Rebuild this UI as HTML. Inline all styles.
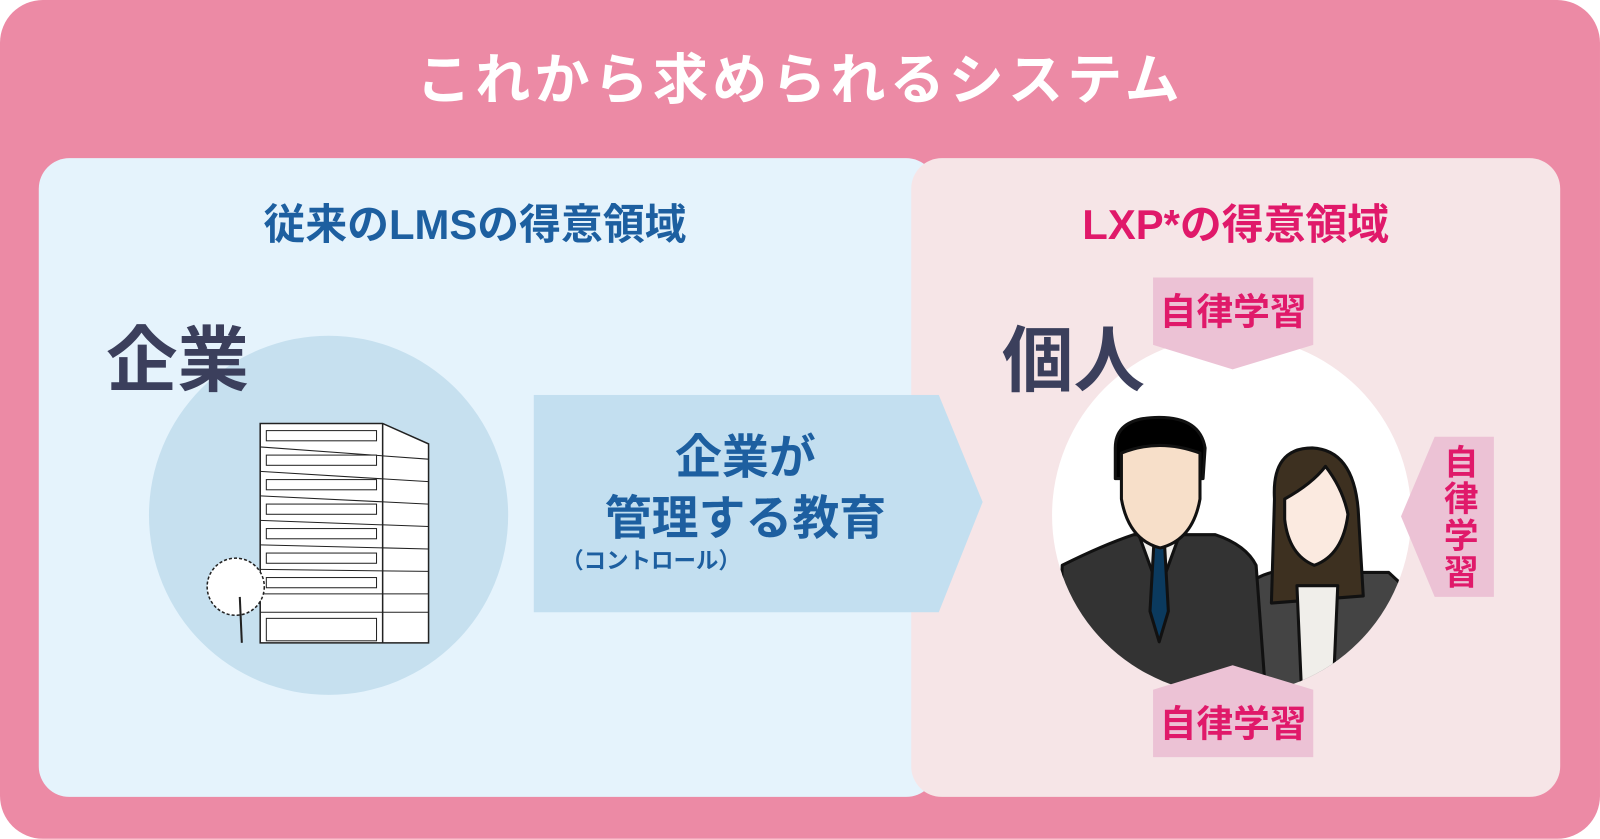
<!DOCTYPE html>
<html><head><meta charset="utf-8"><style>
html,body{margin:0;padding:0;width:1600px;height:838px;overflow:hidden;background:#fff}
#w{position:absolute;left:0;top:0;width:1568px;height:822px;transform:scale(1.0204);transform-origin:0 0;font-family:"Liberation Sans","Noto Sans CJK JP",sans-serif;font-weight:bold}
.a{position:absolute}
</style></head><body><div id="w">
<div class="a" style="left:0;top:0;width:1568px;height:822px;background:#ec8aa5;border-radius:42px"></div>
<div class="a" style="left:0;top:44px;width:1568px;text-align:center;color:#fff;font-size:54px;line-height:70px;letter-spacing:4px">これから求められるシステム</div>
<div class="a" style="left:38px;top:155px;width:880px;height:626px;background:#e5f3fc;border-radius:30px"></div>
<div class="a" style="left:893px;top:155px;width:636px;height:626px;background:#f6e5e7;border-radius:30px"></div>
<div class="a" style="left:38px;top:194px;width:855px;text-align:center;color:#1d5fa0;font-size:41px;line-height:52px">従来のLMSの得意領域</div>
<div class="a" style="left:893px;top:194px;width:636px;text-align:center;color:#e0196a;font-size:41px;line-height:52px">LXP*の得意領域</div>
<div class="a" style="left:146px;top:329px;width:352px;height:352px;border-radius:50%;background:#c6e0ef"></div>
<svg class="a" style="left:195px;top:410px" width="230" height="225" viewBox="0 0 230 225">
<g stroke="#222" stroke-width="1.5" fill="#fff">
<polygon points="60,5 180,5 225,25 225,220 60,220"/>
<line x1="180" y1="5" x2="180" y2="220"/>
<g stroke-width="1">
<line x1="60" y1="28" x2="225" y2="40"/><line x1="60" y1="52" x2="225" y2="62"/><line x1="60" y1="76" x2="225" y2="84"/><line x1="60" y1="100" x2="225" y2="106"/><line x1="60" y1="124" x2="225" y2="128"/><line x1="60" y1="148" x2="225" y2="150"/><line x1="60" y1="172" x2="225" y2="172"/><line x1="60" y1="190" x2="225" y2="190"/>
<rect x="66" y="12" width="108" height="10"/><rect x="66" y="36" width="108" height="10"/><rect x="66" y="60" width="108" height="10"/><rect x="66" y="84" width="108" height="10"/><rect x="66" y="108" width="108" height="10"/><rect x="66" y="132" width="108" height="10"/><rect x="66" y="156" width="108" height="10"/><rect x="66" y="196" width="108" height="22"/>
</g></g>
<circle cx="36" cy="165" r="28" fill="#fff" stroke="#222" stroke-width="1.5" stroke-dasharray="3 2"/>
<line x1="40" y1="175" x2="42" y2="220" stroke="#222" stroke-width="2"/>
</svg>
<div class="a" style="left:104px;top:312px;color:#3b3f5c;font-size:70px;line-height:84px">企業</div>
<svg class="a" style="left:523px;top:387px" width="442" height="214"><polygon points="0,0 397,0 440,105 397,213 0,213" fill="#c3dff0"/></svg>
<div class="a" style="left:523px;top:418px;width:415px;text-align:center;color:#1d5fa0;font-size:46px;line-height:60px">企業が<br>管理する教育</div>
<div class="a" style="left:550px;top:535px;color:#1d5fa0;font-size:22px;line-height:30px">（コントロール）</div>
<svg class="a" style="left:1031px;top:329px" width="352" height="352" viewBox="0 0 352 352">
<defs><clipPath id="c"><circle cx="176" cy="176" r="176"/></clipPath></defs>
<circle cx="176" cy="176" r="176" fill="#fff"/>
<g clip-path="url(#c)" stroke="#111" stroke-width="3" stroke-linejoin="round">
<path d="M170,360 L175,270 Q185,240 215,232 L330,232 L360,260 L360,360Z" fill="#444"/>
<path d="M218,160 Q215,110 255,110 Q295,112 300,170 L305,255 L215,262Z" fill="#3d3020"/>
<path d="M228,160 Q255,145 268,128 Q285,150 290,175 Q285,215 257,225 Q232,215 228,180Z" fill="#fbeae0"/>
<path d="M240,245 L280,245 L275,360 L245,360Z" fill="#f0eeea"/>
<path d="M5,360 L10,225 Q50,205 80,195 L160,195 Q190,205 200,225 L210,360Z" fill="#333"/>
<path d="M80,180 L85,195 L105,250 L125,195 L130,180Z" fill="#f0eeea"/>
<path d="M100,200 L110,200 L114,270 L105,300 L96,270Z" fill="#0b3a5e"/>
<path d="M62,110 Q62,80 105,80 Q145,80 150,110 L148,140 L62,140Z" fill="#000"/>
<path d="M68,115 Q105,100 145,115 L145,160 Q138,200 106,208 Q75,200 68,160Z" fill="#f7dfc9"/>
</g></svg>
<div class="a" style="left:982px;top:312px;color:#3b3f5c;font-size:70px;line-height:84px">個人</div>
<svg class="a" style="left:1128px;top:270px" width="162" height="95"><polygon points="2,2 159,2 159,68 80,92 2,68" fill="#ecc2d5"/></svg>
<svg class="a" style="left:1128px;top:650px" width="162" height="95"><polygon points="80,2 159,26 159,92 2,92 2,26" fill="#ecc2d5"/></svg>
<svg class="a" style="left:1370px;top:426px" width="96" height="162"><polygon points="36,2 94,2 94,159 36,159 3,80" fill="#ecc2d5"/></svg>
<div class="a" style="left:1130px;top:284px;width:157px;text-align:center;color:#e0196a;font-size:36px;line-height:44px">自律学習</div>
<div class="a" style="left:1130px;top:688px;width:157px;text-align:center;color:#e0196a;font-size:36px;line-height:44px">自律学習</div>
<div class="a" style="left:1412px;top:436px;width:40px;text-align:center;color:#e0196a;font-size:34px;line-height:36px">自<br>律<br>学<br>習</div>
</div></body></html>
